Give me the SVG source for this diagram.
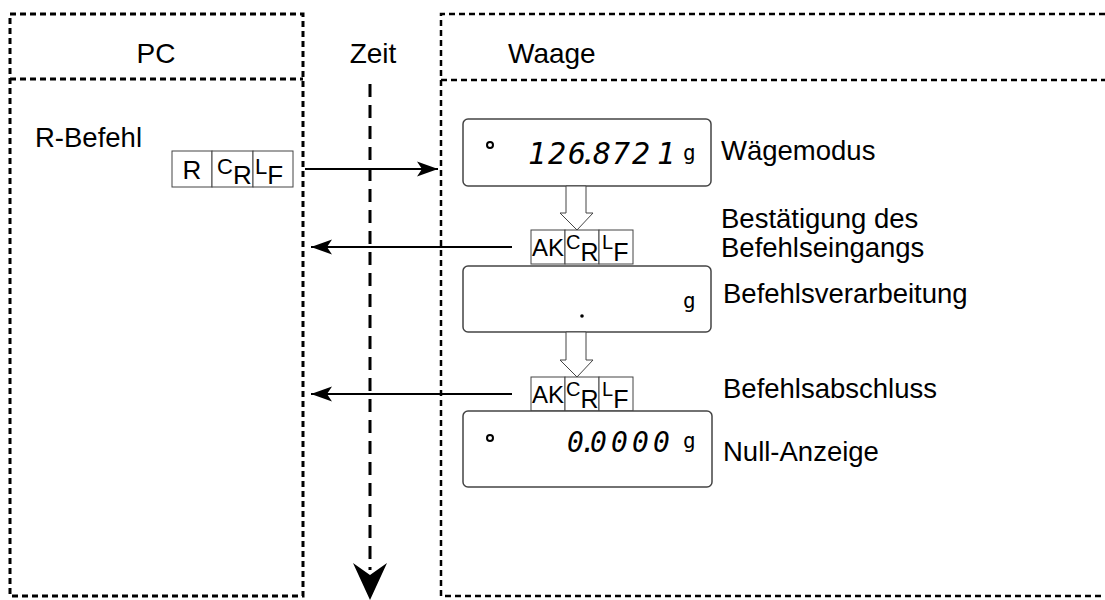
<svg xmlns="http://www.w3.org/2000/svg" width="1105" height="600" viewBox="0 0 1105 600">
<style>
.lbl{font-family:"Liberation Sans",Arial,sans-serif;font-size:27.5px;fill:#000}
.hdr{font-family:"Liberation Sans",Arial,sans-serif;font-size:28px;fill:#000}
.cell{fill:#fff;stroke:#444;stroke-width:1}
.ct{font-family:"Liberation Sans",Arial,sans-serif;fill:#000}
.disp{fill:#fff;stroke:#444;stroke-width:1.5}
.seg{font-family:"DejaVu Sans Mono",monospace;font-style:italic;fill:#000}
.gg{font-family:"DejaVu Sans Mono",monospace;fill:#000;font-size:21px}
.box{fill:none;stroke:#000;stroke-width:3;stroke-dasharray:6 4}
.msg{stroke:#000;stroke-width:2;fill:none;marker-end:url(#ah)}
.hollow{fill:#fff;stroke:#444;stroke-width:1}
</style>
<defs>
<marker id="ah" markerUnits="userSpaceOnUse" viewBox="-1 -9 24 18" refX="21" refY="0" markerWidth="24" markerHeight="18" orient="auto">
<path d="M0,-7.5 L21,0 L0,7.5 L5,0 Z" fill="#000"/>
</marker>
</defs>
<rect width="1105" height="600" fill="#fff"/>

<g id="pc-lane">
<rect class="box" x="10" y="14" width="293" height="582"/>
<line class="box" x1="10" y1="79" x2="303" y2="79"/>
<text class="hdr" x="156" y="63" text-anchor="middle">PC</text>
</g>

<g id="waage-lane">
<path class="box" d="M1105,14 L441,14 L441,596 L1105,596" style="stroke-width:2.5"/>
<line class="box" x1="441" y1="80" x2="1105" y2="80" style="stroke-width:2.5"/>
<text class="hdr" x="508" y="63">Waage</text>
</g>

<g id="zeit">
<text class="hdr" x="373" y="63" text-anchor="middle">Zeit</text>
<line x1="370" y1="84" x2="370" y2="570" stroke="#000" stroke-width="3" stroke-dasharray="13 8"/>
<path d="M353,563 L370,575 L387,563 L370,600 Z" fill="#000"/>
</g>

<g id="r-befehl">
<text class="lbl" x="35" y="147">R-Befehl</text>
<rect class="cell" x="172" y="151" width="40" height="36"/>
<rect class="cell" x="212" y="151" width="41" height="36"/>
<rect class="cell" x="253" y="151" width="40" height="36"/>
<text class="ct" x="192" y="179" font-size="26" text-anchor="middle">R</text>
<text class="ct" x="217" y="174"><tspan font-size="22">C</tspan><tspan font-size="26" dy="10">R</tspan></text>
<text class="ct" x="255" y="174"><tspan font-size="22">L</tspan><tspan font-size="26" dy="10">F</tspan></text>
</g>

<g id="display-1">
<rect class="disp" x="463" y="119" width="248" height="67" rx="5"/>
<circle cx="490" cy="145" r="3" fill="none" stroke="#000" stroke-width="2"/>
<text class="seg" font-size="30" y="164" x="528 548 568 580 593 612 632 657">126.8721</text>
<text class="gg" x="683" y="160">g</text>
<text class="lbl" x="721" y="160">Wägemodus</text>
</g>

<g id="ack-1">
<rect class="cell" x="531" y="230" width="34" height="34"/>
<rect class="cell" x="565" y="230" width="34" height="34"/>
<rect class="cell" x="599" y="230" width="34" height="34"/>
<text class="ct" x="532" y="256" font-size="24">AK</text>
<text class="ct" x="566" y="249"><tspan font-size="20">C</tspan><tspan font-size="25" dy="12">R</tspan></text>
<text class="ct" x="602" y="249"><tspan font-size="20">L</tspan><tspan font-size="25" dy="12">F</tspan></text>
<text class="lbl" x="721" y="228">Bestätigung des</text>
<text class="lbl" x="721" y="257">Befehlseingangs</text>
</g>

<g id="display-2">
<rect class="disp" x="463" y="266" width="248" height="66" rx="5"/>
<circle cx="582" cy="316" r="1.8" fill="#000"/>
<text class="gg" x="683" y="308">g</text>
<text class="lbl" x="723" y="303">Befehlsverarbeitung</text>
</g>

<g id="ack-2">
<rect class="cell" x="531" y="377" width="34" height="34"/>
<rect class="cell" x="565" y="377" width="34" height="34"/>
<rect class="cell" x="599" y="377" width="34" height="34"/>
<text class="ct" x="532" y="403" font-size="24">AK</text>
<text class="ct" x="566" y="396"><tspan font-size="20">C</tspan><tspan font-size="25" dy="12">R</tspan></text>
<text class="ct" x="602" y="396"><tspan font-size="20">L</tspan><tspan font-size="25" dy="12">F</tspan></text>
<text class="lbl" x="723" y="398">Befehlsabschluss</text>
</g>

<g id="display-3">
<rect class="disp" x="463" y="411" width="249" height="76" rx="5"/>
<circle cx="490" cy="438" r="3" fill="none" stroke="#000" stroke-width="2"/>
<text class="seg" font-size="28" y="452" x="567 580 590 611 632 653">0.0000</text>
<text class="gg" x="683" y="448">g</text>
<text class="lbl" x="723" y="461">Null-Anzeige</text>
</g>

<g id="connectors">
<line class="msg" x1="305" y1="169" x2="438" y2="169"/>
<line class="msg" x1="512" y1="247" x2="311" y2="247"/>
<line class="msg" x1="512" y1="394" x2="311" y2="394"/>
<polygon class="hollow" points="566,186 586,186 586,213 593,213 577,230 560,213 566,213"/>
<polygon class="hollow" points="566,332 586,332 586,360 593,360 577,377 560,360 566,360"/>
</g>
</svg>
